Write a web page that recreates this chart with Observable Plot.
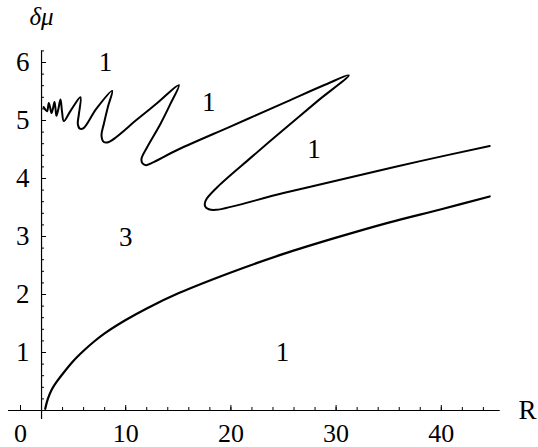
<!DOCTYPE html>
<html>
<head>
<meta charset="utf-8">
<script src="https://cdn.jsdelivr.net/npm/d3@7"></script>
<script src="https://cdn.jsdelivr.net/npm/@observablehq/plot@0.6"></script>
<style>
  html, body { margin: 0; padding: 0; background: #fff; }
  #chart svg { display: block; }
</style>
</head>
<body>
<div id="chart"></div>
<script>
// Lower boundary curve
const lowerX = [2.35, 2.6, 3.0, 3.5, 4, 5, 6, 7, 8, 10, 12, 15, 20, 25, 30, 35, 40, 44.6];
const lowerY = [0.03, 0.2, 0.37, 0.51, 0.63, 0.85, 1.03, 1.19, 1.33, 1.56, 1.76, 2.02, 2.38, 2.7, 2.98, 3.24, 3.47, 3.69];

// Upper zig-zag boundary curve (in path order)
const upperX = [2.2, 2.4, 2.53, 2.69, 2.82, 2.95, 3.1, 3.23, 3.33, 3.42, 3.6, 3.8, 3.95, 4.12, 4.8, 5.7,
  5.55, 5.45, 5.64, 6.0, 7.2, 8.71,
  8.3, 7.92, 7.7, 7.92, 8.4, 11.1, 13, 15.05,
  14.26, 13.3, 12.04, 11.5, 11.6, 11.95, 12.5, 15, 20, 25, 29, 31.2,
  28.2, 25.0, 21.9, 18.7, 17.6, 17.55, 17.9, 18.6, 25, 31.4, 38, 44.6];
const upperY = [5.23, 5.18, 5.16, 5.30, 5.22, 5.13, 5.22, 5.32, 5.2, 5.08, 5.2, 5.36, 5.15, 4.99, 5.18, 5.40,
  5.11, 4.94, 4.86, 4.87, 5.2, 5.51,
  5.23, 4.94, 4.74, 4.63, 4.63, 5.02, 5.3, 5.61,
  5.29, 4.94, 4.54, 4.34, 4.26, 4.23, 4.27, 4.5, 4.9, 5.3, 5.62, 5.78,
  5.33, 4.84, 4.36, 3.85, 3.62, 3.52, 3.47, 3.46, 3.75, 4.02, 4.3, 4.56];

// Axis ticks and labels
const xTickValues = [0, 10, 20, 30, 40];
const xMinorTicks = [0, 4, 6, 8, 10, 12, 14, 16, 18, 20, 22, 24, 26, 28, 30, 32, 34, 36, 38, 40, 42, 44];
const yTickValues = [1, 2, 3, 4, 5, 6];
const yMinorTicks = d3.range(1, 32).map(i => +(i * 0.2).toFixed(1));

// Region labels
const regionText = ["1", "1", "1", "3", "1"];
const regionX = [8.08, 17.9, 27.9, 10.0, 24.9];
const regionY = [6.0, 5.32, 4.51, 2.98, 1.0];

const lower = lowerX.map((x, i) => ({x, y: lowerY[i]}));
const upper = upperX.map((x, i) => ({x, y: upperY[i]}));
const regions = regionText.map((t, i) => ({t, x: regionX[i], y: regionY[i]}));

const font = "Liberation Serif, Times New Roman, serif";
const pxX = 10.52, pxY = 58;

const chart = Plot.plot({
  width: 538,
  height: 447,
  marginLeft: 0, marginRight: 0, marginTop: 0, marginBottom: 0,
  x: {axis: null, domain: [-20 / pxX, (538 - 20) / pxX]},
  y: {axis: null, domain: [(410 - 447) / pxY, 410 / pxY]},
  style: {background: "#fff", fontFamily: font},
  marks: [
    // axes
    Plot.ruleY([0], {x1: -1.14, x2: 45.6, stroke: "#000", strokeWidth: 1.2}),
    Plot.ruleX([2], {y1: -0.155, y2: 6.2, stroke: "#000", strokeWidth: 1.2}),
    // x ticks (above the axis)
    Plot.ruleX(xMinorTicks, {x: d => d, y1: 0, y2: 3 / pxY, stroke: "#000", strokeWidth: 1}),
    Plot.ruleX(xTickValues, {x: d => d, y1: 0, y2: 5 / pxY, stroke: "#000", strokeWidth: 1}),
    // y ticks (right of the axis)
    Plot.ruleY(yMinorTicks, {y: d => d, x1: 2, x2: 2 + 3 / pxX, stroke: "#000", strokeWidth: 1}),
    Plot.ruleY(yTickValues, {y: d => d, x1: 2, x2: 2 + 5 / pxX, stroke: "#000", strokeWidth: 1}),
    // tick labels
    Plot.text(xTickValues, {x: d => d, y: 0, text: d => String(d), dy: 23, fontSize: 26, fontFamily: font, fill: "#000"}),
    Plot.text(yTickValues, {x: 2, y: d => d, text: d => String(d), dx: -12, textAnchor: "end", fontSize: 27, fontFamily: font, fill: "#000"}),
    // axis labels
    Plot.text(["R"], {x: 48.2, y: 0, text: d => d, fontSize: 27, fontFamily: font, fill: "#000"}),
    Plot.text(["δμ"], {x: 2, y: 6.79, text: d => d, fontSize: 25, fontStyle: "italic", fontFamily: font, fill: "#000"}),
    // curves
    Plot.line(lower, {x: "x", y: "y", curve: "catmull-rom", stroke: "#000", strokeWidth: 2.2}),
    Plot.line(upper, {x: "x", y: "y", curve: "catmull-rom", stroke: "#000", strokeWidth: 2}),
    // region labels
    Plot.text(regions, {x: "x", y: "y", text: "t", fontSize: 27, fontFamily: font, fill: "#000"})
  ]
});

document.getElementById("chart").appendChild(chart);
</script>
</body>
</html>
